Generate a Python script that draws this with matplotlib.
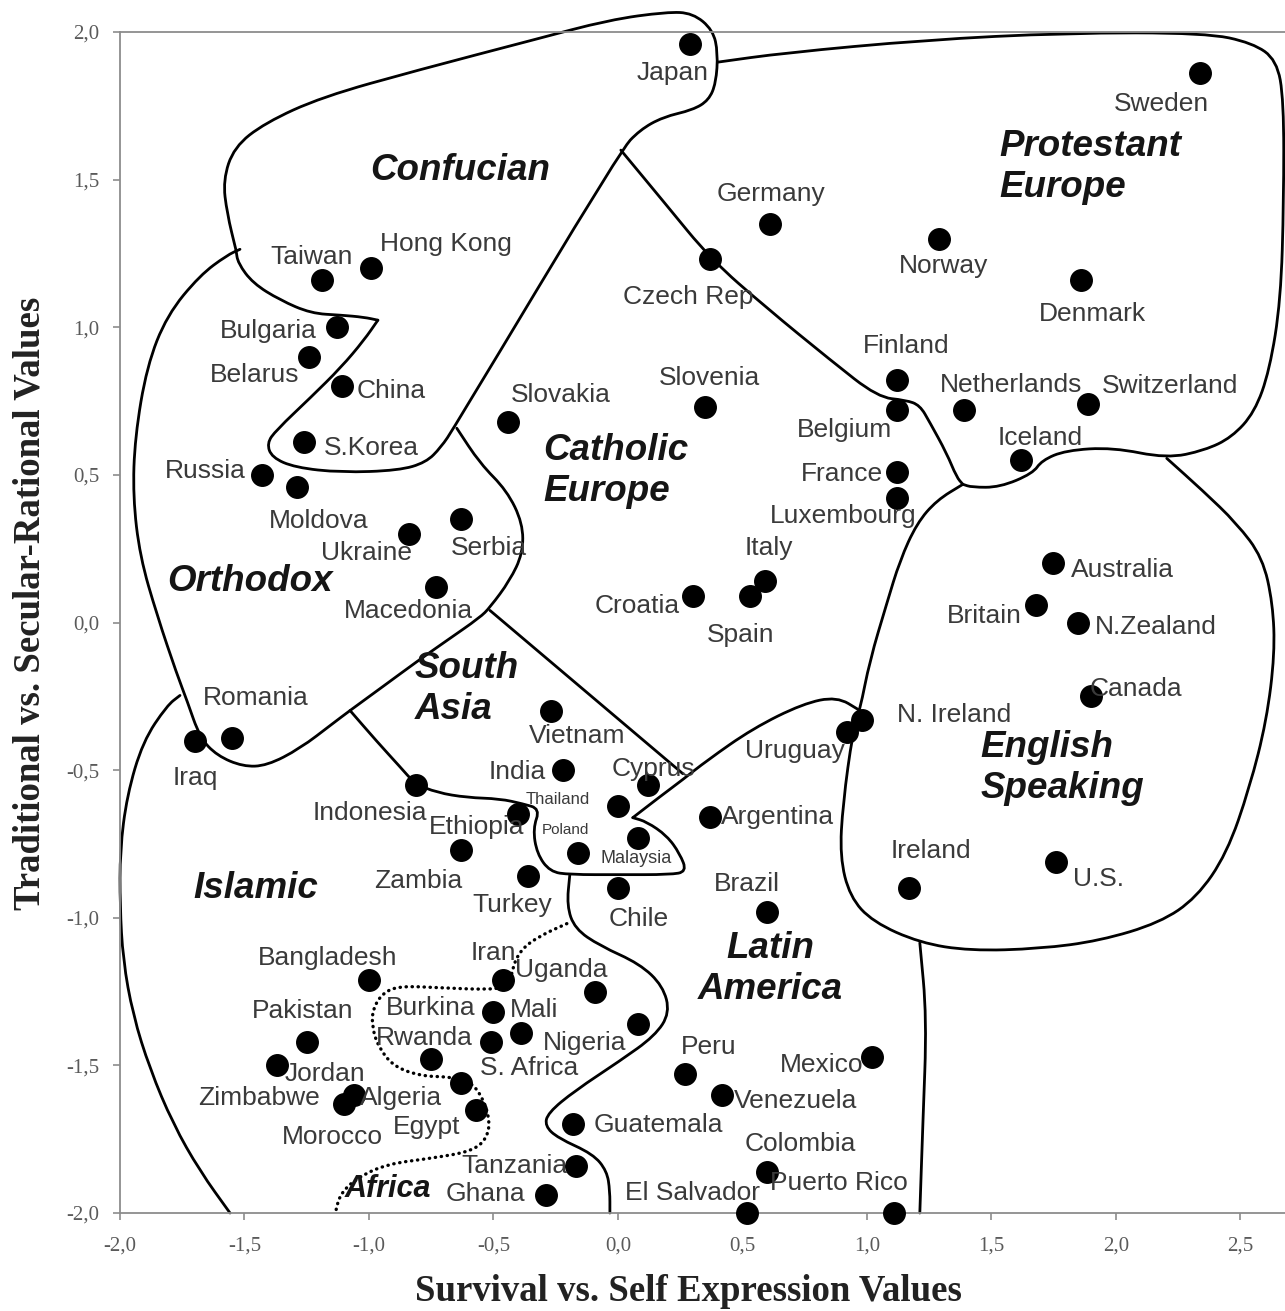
import numpy as np
import matplotlib
matplotlib.use('Agg')
import matplotlib.pyplot as plt
from matplotlib.path import Path
from matplotlib.patches import PathPatch

plt.rcParams['font.family'] = ['Liberation Sans', 'DejaVu Sans']

# --- country scores (survival/self-expression, traditional/secular-rational)
countries = ['Japan', 'Sweden', 'Germany', 'Czech Rep', 'Norway', 'Denmark', 'Finland',
             'Belgium', 'Netherlands', 'Switzerland', 'Iceland', 'France', 'Luxembourg',
             'Slovenia', 'Slovakia', 'Taiwan', 'Hong Kong', 'Bulgaria', 'Belarus', 'China',
             'S.Korea', 'Russia', 'Moldova', 'Ukraine', 'Serbia', 'Macedonia', 'Italy',
             'Spain', 'Croatia', 'Australia', 'Britain', 'N.Zealand', 'Canada', 'N. Ireland',
             'Uruguay', 'Ireland', 'U.S.', 'Romania', 'Iraq', 'Vietnam', 'India', 'Cyprus',
             'Indonesia', 'Thailand', 'Ethiopia', 'Argentina', 'Poland', 'Malaysia', 'Zambia',
             'Turkey', 'Chile', 'Brazil', 'Bangladesh', 'Iran', 'Uganda', 'Burkina', 'Mali',
             'S. Africa', 'Rwanda', 'Nigeria', 'Pakistan', 'Jordan', 'Zimbabwe', 'Morocco',
             'Algeria', 'Egypt', 'Guatemala', 'Tanzania', 'Ghana', 'Peru', 'Venezuela',
             'Mexico', 'Colombia', 'Puerto Rico', 'El Salvador']
survival = [0.29, 2.34, 0.61, 0.37, 1.29, 1.86, 1.12,
            1.12, 1.39, 1.89, 1.62, 1.12, 1.12,
            0.35, -0.44, -1.19, -0.99, -1.13, -1.24, -1.11,
            -1.26, -1.43, -1.29, -0.84, -0.63, -0.73, 0.59,
            0.53, 0.30, 1.75, 1.68, 1.85, 1.90, 0.98,
            0.92, 1.17, 1.76, -1.55, -1.70, -0.27, -0.22, 0.12,
            -0.81, 0.00, -0.40, 0.37, -0.16, 0.08, -0.63,
            -0.36, 0.00, 0.60, -1.00, -0.46, -0.09, -0.50, -0.39,
            -0.51, -0.75, 0.08, -1.25, -1.37, -1.06, -1.10,
            -0.63, -0.57, -0.18, -0.17, -0.29, 0.27, 0.42,
            1.02, 0.60, 1.11, 0.52]
traditional = [1.96, 1.86, 1.35, 1.23, 1.30, 1.16, 0.82,
               0.72, 0.72, 0.74, 0.55, 0.51, 0.42,
               0.73, 0.68, 1.16, 1.20, 1.00, 0.90, 0.80,
               0.61, 0.50, 0.46, 0.30, 0.35, 0.12, 0.14,
               0.09, 0.09, 0.20, 0.06, 0.00, -0.25, -0.33,
               -0.37, -0.90, -0.81, -0.39, -0.40, -0.30, -0.50, -0.55,
               -0.55, -0.62, -0.65, -0.66, -0.78, -0.73, -0.77,
               -0.86, -0.90, -0.98, -1.21, -1.21, -1.25, -1.32, -1.39,
               -1.42, -1.48, -1.36, -1.42, -1.50, -1.60, -1.63,
               -1.56, -1.65, -1.70, -1.84, -1.94, -1.53, -1.60,
               -1.47, -1.86, -2.00, -2.00]

# label placement (offset from the dot, in pixels, y up) and font size
label_offsets = {
    'Japan': (-17, -29), 'Sweden': (-39, -31), 'Germany': (1, 30), 'Czech Rep': (-22, -38),
    'Norway': (5, -27), 'Denmark': (12, -34), 'Finland': (10, 34), 'Belgium': (-52, -20),
    'Netherlands': (47, 25), 'Switzerland': (82, 18), 'Iceland': (19, 22), 'France': (-55, -2),
    'Luxembourg': (-53, -18), 'Slovenia': (4, 29), 'Slovakia': (52, 27), 'Taiwan': (-10, 23),
    'Hong Kong': (75, 24), 'Bulgaria': (-68, -4), 'Belarus': (-55, -18), 'China': (50, -5),
    'S.Korea': (67, -6), 'Russia': (-57, 4), 'Moldova': (22, -34), 'Ukraine': (-42, -19),
    'Serbia': (28, -29), 'Macedonia': (-28, -24), 'Italy': (4, 33), 'Spain': (-9, -39),
    'Croatia': (-55, -10), 'Australia': (69, -7), 'Britain': (-52, -11), 'N.Zealand': (77, -5),
    'Canada': (45, 7), 'N. Ireland': (92, 5), 'Uruguay': (-52, -19), 'Ireland': (22, 37),
    'U.S.': (43, -17), 'Romania': (24, 40), 'Iraq': (1, -37), 'Vietnam': (26, -25),
    'India': (-46, -2), 'Cyprus': (6, 16), 'Indonesia': (-46, -28), 'Thailand': (-60, 6),
    'Ethiopia': (-42, -13), 'Argentina': (68, 0), 'Poland': (-13, 23), 'Malaysia': (-2, -20),
    'Zambia': (-43, -31), 'Turkey': (-16, -29), 'Chile': (21, -31), 'Brazil': (-20, 28),
    'Bangladesh': (-41, 22), 'Iran': (-10, 27), 'Uganda': (-34, 22), 'Burkina': (-63, 4),
    'Mali': (13, 23), 'S. Africa': (38, -26), 'Rwanda': (-7, 21), 'Nigeria': (-53, -19),
    'Pakistan': (-4, 31), 'Jordan': (48, -9), 'Zimbabwe': (-95, -3), 'Morocco': (-12, -33),
    'Algeria': (-60, -15), 'Egypt': (-49, -17), 'Guatemala': (85, -1), 'Tanzania': (-61, 0),
    'Ghana': (-60, 1), 'Peru': (24, 27), 'Venezuela': (73, -6), 'Mexico': (-50, -8),
    'Colombia': (33, 28), 'Puerto Rico': (-55, 30), 'El Salvador': (-55, 20),
}
small_labels = {'Thailand': 12, 'Poland': 11, 'Malaysia': 13}

confucian_a = [(-1.534, 1.261), (-1.570, 1.386), (-1.586, 1.498), (-1.542, 1.610), (-1.418, 1.692),
               (-1.189, 1.780), (-0.803, 1.871), (-0.341, 1.973), (-0.036, 2.041), (0.197, 2.068),
               (0.301, 2.064), (0.382, 2.007), (0.402, 1.929), (0.394, 1.827), (0.365, 1.769),
               (0.301, 1.736), (0.181, 1.712), (0.088, 1.668), (0.012, 1.600), (-0.659, 0.658),
               (-0.711, 0.593), (-0.771, 0.542), (-0.880, 0.515), (-1.112, 0.508), (-1.297, 0.525),
               (-1.390, 0.559), (-1.410, 0.607), (-1.373, 0.651), (-1.233, 0.763), (-1.112, 0.864),
               (-1.020, 0.956), (-0.964, 1.024)]
confucian_b = [(-0.964, 1.024), (-1.020, 1.034), (-1.112, 1.041), (-1.233, 1.047),
               (-1.357, 1.092), (-1.466, 1.149), (-1.526, 1.217), (-1.534, 1.261)]
orthodox = [(-1.518, 1.264), (-1.570, 1.244), (-1.679, 1.176), (-1.811, 1.041), (-1.892, 0.868),
            (-1.940, 0.627), (-1.948, 0.427), (-1.920, 0.224), (-1.851, 0.024), (-1.771, -0.176),
            (-1.731, -0.264), (-1.679, -0.390), (-1.610, -0.451), (-1.506, -0.488),
            (-1.410, -0.485), (-1.277, -0.427), (-1.145, -0.342), (-1.076, -0.298),
            (-0.944, -0.217), (-0.807, -0.132), (-0.687, -0.061), (-0.554, 0.017),
            (-0.514, 0.051), (-0.434, 0.142), (-0.382, 0.234), (-0.382, 0.336),
            (-0.446, 0.447), (-0.554, 0.539), (-0.647, 0.658)]
catholic_south_asia = [(-0.514, 0.041), (0.261, -0.512)]
south_asia_loop = [(-1.076, -0.298), (-0.968, -0.403), (-0.876, -0.488), (-0.815, -0.546),
                   (-0.727, -0.576), (-0.606, -0.593), (-0.474, -0.597), (-0.382, -0.614),
                   (-0.313, -0.631), (-0.341, -0.698), (-0.325, -0.783), (-0.273, -0.844),
                   (-0.193, -0.854), (0.008, -0.854), (0.209, -0.854), (0.277, -0.844),
                   (0.249, -0.783), (0.197, -0.722), (0.116, -0.675), (0.060, -0.661)]
latin_top = [(0.060, -0.661), (0.169, -0.590), (0.261, -0.532), (0.357, -0.468), (0.542, -0.359),
             (0.743, -0.275), (0.880, -0.251), (0.972, -0.298)]
latin_left = [(-0.193, -0.854), (-0.205, -0.959), (-0.173, -1.037), (-0.072, -1.095),
              (0.088, -1.156), (0.181, -1.231), (0.209, -1.322), (0.149, -1.400),
              (0.008, -1.485), (-0.173, -1.586), (-0.281, -1.661), (-0.293, -1.705),
              (-0.241, -1.746), (-0.100, -1.800), (-0.044, -1.858), (-0.032, -1.925),
              (-0.032, -2.000)]
catholic_protestant = [(0.012, 1.600), (0.189, 1.420), (0.373, 1.231), (0.594, 1.068),
                       (0.855, 0.888), (1.044, 0.763), (1.157, 0.753), (1.213, 0.736),
                       (1.253, 0.678), (1.321, 0.573), (1.361, 0.492), (1.386, 0.468)]
protestant = [(0.402, 1.898), (0.667, 1.929), (1.233, 1.973), (1.799, 1.997), (2.361, 1.997),
              (2.550, 1.963), (2.647, 1.905), (2.675, 1.769), (2.675, 1.431), (2.663, 1.092),
              (2.618, 0.854), (2.558, 0.712), (2.466, 0.627), (2.357, 0.583), (2.205, 0.556),
              (1.988, 0.593), (1.799, 0.583), (1.703, 0.549), (1.667, 0.505), (1.534, 0.458),
              (1.422, 0.458), (1.386, 0.468)]
english = [(2.205, 0.556), (2.349, 0.447), (2.486, 0.336), (2.590, 0.220), (2.631, 0.064),
           (2.639, -0.105), (2.606, -0.332), (2.538, -0.559), (2.446, -0.783), (2.325, -0.932),
           (2.177, -1.017), (1.936, -1.078), (1.695, -1.105), (1.414, -1.112), (1.213, -1.085),
           (1.024, -1.014), (0.932, -0.929), (0.892, -0.793), (0.904, -0.614), (0.944, -0.369),
           (0.972, -0.298), (1.012, -0.129), (1.080, 0.064), (1.133, 0.210), (1.201, 0.336),
           (1.281, 0.414), (1.386, 0.468)]
latin_right = [(1.213, -1.085), (1.241, -1.339), (1.225, -1.702), (1.213, -2.000)]
islamic = [(-1.759, -0.247), (-1.811, -0.281), (-1.908, -0.403), (-1.972, -0.586),
           (-2.000, -0.773), (-2.000, -0.959), (-1.988, -1.142), (-1.948, -1.329),
           (-1.880, -1.512), (-1.787, -1.698), (-1.679, -1.858), (-1.558, -2.000)]
africa = [(-0.205, -1.020), (-0.313, -1.061), (-0.386, -1.105), (-0.422, -1.163),
          (-0.434, -1.231), (-0.514, -1.244), (-0.715, -1.237), (-0.876, -1.231),
          (-0.944, -1.254), (-0.984, -1.308), (-0.988, -1.366), (-0.964, -1.434),
          (-0.904, -1.502), (-0.795, -1.536), (-0.675, -1.539), (-0.594, -1.553),
          (-0.542, -1.610), (-0.514, -1.688), (-0.526, -1.746), (-0.582, -1.790),
          (-0.743, -1.814), (-0.928, -1.834), (-1.048, -1.881), (-1.116, -1.936),
          (-1.133, -1.993)]

zones = ['Confucian', 'Protestant\nEurope', 'Catholic\nEurope', 'Orthodox', 'South\nAsia',
         'English\nSpeaking', 'Islamic', 'Latin\nAmerica', 'Africa']
zone_pos = [(-0.635, 1.532), (1.534, 1.542), (-0.301, 0.512), (-1.478, 0.139), (-0.815, -0.224),
            (1.455, -0.492), (-1.454, -0.902), (0.614, -1.173), (-0.924, -1.919)]
zone_align = ['center', 'left', 'left', 'center', 'left', 'left', 'center', 'center', 'center']

xticks = np.arange(-2.0, 2.51, 0.5)
yticks = np.arange(-2.0, 2.01, 0.5)

DPI = 100
fig = plt.figure(figsize=(12.85, 13.11), dpi=DPI)
ax = fig.add_axes([120 / 1285, 98 / 1311, 1165 / 1285, 1181 / 1311])
ax.set_xlim(-2.0, 2.68)
ax.set_ylim(-2.0, 2.0)

for name, spine in ax.spines.items():
    spine.set_color('#8c8c8c')
    spine.set_linewidth(1.3)
ax.spines['right'].set_visible(False)


def fmt(v):
    return f'{v:.1f}'.replace('.', ',').replace('-0,0', '0,0')


ax.set_xticks(xticks)
ax.set_yticks(yticks)
ax.set_xticklabels([fmt(v) for v in xticks], family='Liberation Serif', fontsize=15, color='#5a5a5a')
ax.set_yticklabels([fmt(v) for v in yticks], family='Liberation Serif', fontsize=15, color='#5a5a5a')
ax.tick_params(direction='out', length=5, width=1.2, color='#8c8c8c')
ax.tick_params(axis='x', pad=12)
ax.tick_params(axis='y', pad=10)

ax.set_xlabel('Survival vs. Self Expression Values', family='Liberation Serif',
              fontweight='bold', fontsize=26.5, color='#222222')
ax.set_ylabel('Traditional vs. Secular-Rational Values', family='Liberation Serif',
              fontweight='bold', fontsize=26.5, color='#222222')
ax.xaxis.set_label_coords((688 - 120) / 1165, -0.052)
ax.yaxis.set_label_coords(-0.077, 0.5165)
ax.yaxis.label.set_verticalalignment('center')


def outline(pts):
    # hand-drawn looking outline: traced points used as quadratic bezier controls
    pts = np.asarray(pts, dtype=float)
    if len(pts) < 3:
        return Path(pts)
    verts = [pts[0], (pts[0] + pts[1]) / 2]
    codes = [Path.MOVETO, Path.LINETO]
    for i in range(1, len(pts) - 1):
        verts += [pts[i], (pts[i] + pts[i + 1]) / 2]
        codes += [Path.CURVE3, Path.CURVE3]
    verts.append(pts[-1])
    codes.append(Path.LINETO)
    return Path(verts, codes)


for curve in [confucian_a, confucian_b, orthodox, catholic_south_asia, south_asia_loop,
              latin_top, latin_left, catholic_protestant, protestant, english,
              latin_right, islamic]:
    ax.add_patch(PathPatch(outline(curve), fill=False, edgecolor='black', lw=2.0,
                           joinstyle='round', capstyle='round', clip_on=False, zorder=2))
dots = PathPatch(outline(africa), fill=False, edgecolor='black', lw=2.4,
                 linestyle=(0, (0.1, 1.7)), capstyle='round', clip_on=False, zorder=2)
ax.add_patch(dots)

# countries
ax.plot(survival, traditional, 'o', color='black', ms=15.5, clip_on=False, zorder=4)
for name, sx, ty in zip(countries, survival, traditional):
    dx, dy = label_offsets[name]
    ax.annotate(name, (sx, ty), xytext=(dx * 72 / DPI, dy * 72 / DPI),
                textcoords='offset points', ha='center', va='center',
                fontsize=small_labels.get(name, 19), color='#3a3a3a', zorder=5,
                annotation_clip=False)

# zone names
for z, (zx, zy), al in zip(zones, zone_pos, zone_align):
    ax.text(zx, zy, z, ha=al, va='center', multialignment=al,
            fontsize=22 if z == 'Africa' else 26.5, fontweight='bold', style='italic',
            color='#151515', linespacing=1.22, zorder=5)

fig.savefig('out.png', dpi=DPI)
